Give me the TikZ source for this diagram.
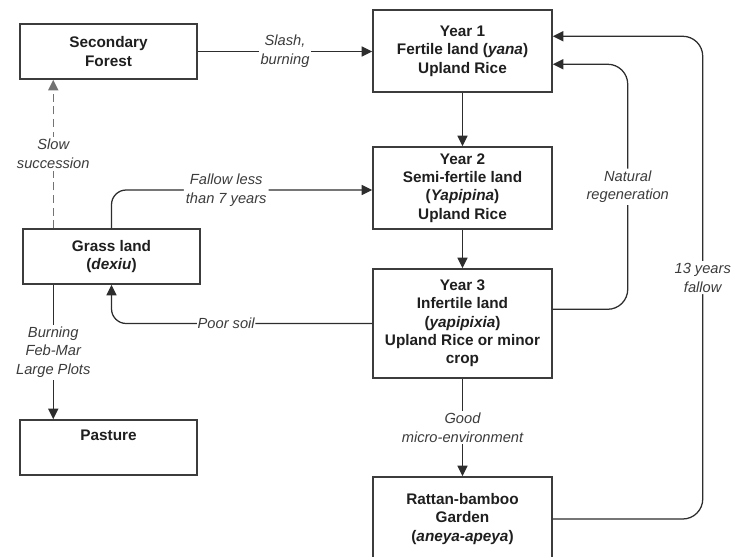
\documentclass[tikz,border=0pt]{standalone}
\usepackage{fontspec}
\setmainfont{Liberation Sans}
\usetikzlibrary{arrows.meta,calc}
\definecolor{boxLine}{RGB}{60,60,60}
\definecolor{flowLine}{RGB}{45,45,45}
\definecolor{labelGrey}{RGB}{60,60,60}
\definecolor{dashGrey}{RGB}{115,115,115}

\tikzset{
  landbox/.style={draw=boxLine,line width=1.1pt,fill=white,align=center,inner sep=0pt,
    font=\bfseries\fontsize{11.5}{13.75}\selectfont,text=black!88},
  flowlbl/.style={fill=white,align=center,inner sep=1.5pt,
    font=\itshape\fontsize{11}{14}\selectfont,text=labelGrey},
  flowarr/.style={draw=flowLine,line width=0.95pt,-{Triangle[length=8pt,width=7.6pt]}},
}

\begin{document}
\begin{tikzpicture}[x=0.75pt,y=-0.75pt]
 \useasboundingbox (0,0) rectangle (732,557);
 \clip (0,0) rectangle (732,557);
 % land-use stages
 \node[landbox,minimum width=132.75pt,minimum height=41.25pt] (forest) at (108.5,51.5)
   {Secondary\\Forest};
 \node[landbox,minimum width=134.25pt,minimum height=61.5pt] (year1) at (462.5,51)
   {Year 1\\Fertile land (\textit{yana})\\Upland Rice};
 \node[landbox,minimum width=134.25pt,minimum height=61.5pt] (year2) at (462.5,188)
   {Year 2\\Semi-fertile land\\(\textit{Yapipina})\\Upland Rice};
 \node[landbox,minimum width=134.25pt,minimum height=81.75pt] (year3) at (462.5,323.5)
   {Year 3\\Infertile land\\(\textit{yapipixia})\\Upland Rice or minor\\crop};
 \node[landbox,minimum width=134.25pt,minimum height=63pt] (rattan) at (462.5,519)
   {Rattan-bamboo\\Garden\\(\textit{aneya-apeya})};
 \node[landbox,minimum width=132.75pt,minimum height=41.25pt] (grass) at (111.5,256.5)
   {Grass land\\(\textit{dexiu})};
 \node[landbox,minimum width=132.75pt,minimum height=41.25pt] (pasture) at (108.5,447.5)
   {Pasture\\\strut};
 % transitions
 \draw[flowarr] (forest.east) -- node[flowlbl]{Slash,\\burning} (forest.east -| year1.west);
 \draw[flowarr] (year1) -- (year2);
 \draw[flowarr] (year2) -- (year3);
 \draw[flowarr] (year3) -- node[flowlbl]{Good\\micro-environment} (rattan);
 \draw[flowarr,draw=dashGrey,line width=1.1pt,dash pattern=on 6pt off 3.5pt]
   ($(grass.north west)+(31,0)$) coordinate (slow)
   -- node[flowlbl]{Slow\\succession} (slow |- forest.south);
 \draw[flowarr,rounded corners=11pt] (grass.north)
   |- node[flowlbl,pos=0.72]{Fallow less\\than 7 years} ([yshift=-1.5pt]year2.west);
 \draw[flowarr,rounded corners=11pt] (year3.west)
   -| node[flowlbl,pos=0.28,inner sep=0.5pt]{Poor soil} (grass.south);
 \draw[flowarr] ($(grass.south west)+(31,0)$) coordinate (burn)
   -- node[flowlbl]{Burning\\Feb-Mar\\Large Plots} (burn |- pasture.north);
 \draw[flowarr,rounded corners=15pt] ($(year3.north east)+(0,41)$) -- ++(75,0)
   |- node[flowlbl,pos=0.25]{Natural\\regeneration} ($(year1.north east)+(0,55)$);
 \draw[flowarr,rounded corners=15pt] (rattan.east) -- ++(150,0)
   |- node[flowlbl,pos=0.25]{13 years\\fallow} ($(year1.north east)+(0,27)$);
\end{tikzpicture}
\end{document}
